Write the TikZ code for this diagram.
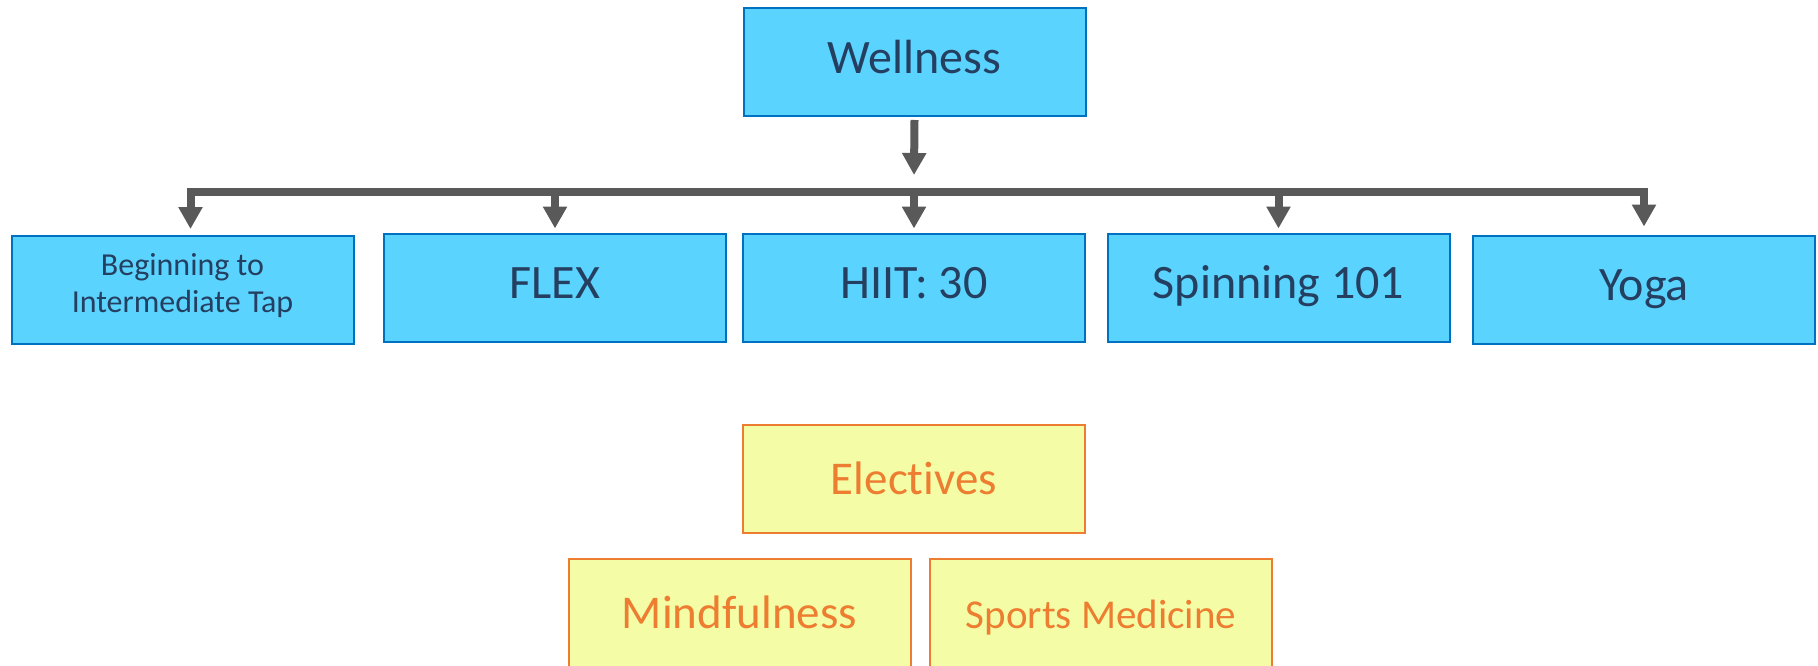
\documentclass[tikz,border=0pt]{standalone}
\usepackage{fontspec}
\setmainfont{Carlito}[Ligatures=NoCommon]
\usetikzlibrary{arrows.meta}

\definecolor{boxblue}{RGB}{91,211,255}
\definecolor{edgeblue}{RGB}{0,112,192}
\definecolor{textblue}{RGB}{36,63,96}
\definecolor{boxyellow}{RGB}{244,252,166}
\definecolor{edgeorange}{RGB}{237,125,49}
\definecolor{linkgray}{RGB}{89,89,89}

\begin{document}
\begin{tikzpicture}[
  x=1pt, y=-1pt,
  >={Triangle[width=23pt,length=22pt]},
  course box/.style={
    draw=edgeblue, line width=2pt, fill=boxblue, text=textblue,
    minimum width=342pt, minimum height=108pt, inner sep=0pt,
    font=\fontsize{48}{56}\selectfont
  },
  elective box/.style={
    draw=edgeorange, line width=2pt, fill=boxyellow, text=edgeorange,
    minimum width=342pt, minimum height=108pt, inner sep=0pt,
    font=\fontsize{47}{80}\selectfont
  },
  link/.style={draw=linkgray, line width=8pt, ->}
  ]
  \useasboundingbox (0,0) rectangle (1818,666);

  \node[course box] (wellness) at (914.5,62) {\strut Wellness};
  \coordinate (bus) at (914,192);

  % the five courses
  \node[course box, align=center, font=\fontsize{32}{37}\selectfont]
    (tap) at (182.5,290) {Beginning to\\Intermediate Tap\rule[-14pt]{0pt}{0pt}};
  \node[course box] (flex) at (555,287.5) {\strut FLEX};
  \node[course box] (hiit) at (914,287.5) {\strut HIIT: 30};
  \node[course box] (spin) at (1278.5,287.5) {\strut Spinning 101};
  \node[course box] (yoga) at (1644,289.5) {\strut Yoga};

  % electives
  \node[elective box] (electives) at (914,478.5) {\strut Electives};
  \node[elective box] (mind) at (739.5,612.5) {\strut Mindfulness};
  \node[elective box, font=\fontsize{41}{80}\selectfont]
    (sports) at (1101,612.5) {\strut Sports Medicine};

  \draw[link] ([yshift=-3pt]wellness.south) -- ([yshift=17pt]bus);
  \draw[link, <->] ([xshift=8pt,yshift=6pt]tap.north) |- (bus)
    -| ([yshift=8pt]yoga.north);
  \foreach \n in {flex,hiit,spin}{
    \draw[link] (\n.north |- bus) -- ([yshift=4pt]\n.north);
  }
\end{tikzpicture}
\end{document}
